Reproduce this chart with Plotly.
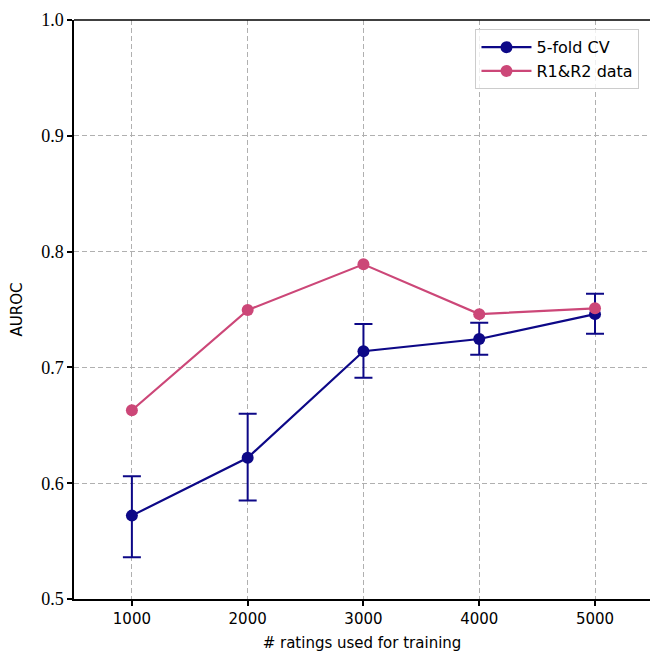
import plotly.graph_objects as go

n_ratings = [1000, 2000, 3000, 4000, 5000]
cv_mean = [0.572, 0.622, 0.714, 0.7245, 0.746]
cv_upper = [0.606, 0.660, 0.7375, 0.7385, 0.7635]
cv_lower = [0.536, 0.585, 0.691, 0.711, 0.729]
r1r2 = [0.663, 0.7495, 0.789, 0.746, 0.751]

x_ticks = [1000, 2000, 3000, 4000, 5000]
y_ticks = [0.5, 0.6, 0.7, 0.8, 0.9, 1.0]

navy = "#0d0887"
pink = "#cc4778"

err_plus = [u - m for u, m in zip(cv_upper, cv_mean)]
err_minus = [m - l for m, l in zip(cv_mean, cv_lower)]

fig = go.Figure()
fig.add_trace(go.Scatter(
    x=n_ratings, y=cv_mean, mode="lines+markers", name="5-fold CV",
    line=dict(color=navy, width=2.2),
    marker=dict(color=navy, size=12),
    error_y=dict(type="data", symmetric=False, array=err_plus, arrayminus=err_minus,
                 color=navy, thickness=2, width=9),
))
fig.add_trace(go.Scatter(
    x=n_ratings, y=r1r2, mode="lines+markers", name="R1&amp;R2 data",
    line=dict(color=pink, width=2.2),
    marker=dict(color=pink, size=12),
))

fig.update_layout(
    width=650, height=652,
    margin=dict(l=74, r=0, t=20, b=53, autoexpand=False),
    plot_bgcolor="white", paper_bgcolor="white",
    showlegend=True,
    legend=dict(x=0.697, y=0.984, xanchor="left", yanchor="top",
                bgcolor="rgba(255,255,255,0.8)", bordercolor="#cccccc", borderwidth=1,
                font=dict(family="DejaVu Sans", size=16, color="black"),
                itemwidth=50, tracegroupgap=4),
    xaxis=dict(range=[500, 5475], tickvals=x_ticks, ticktext=[str(v) for v in x_ticks],
               automargin=False,
               showgrid=True, gridcolor="#b0b0b0", griddash="5px,3px", gridwidth=1,
               showline=True, linecolor="black", linewidth=1.5, mirror=False,
               ticks="outside", ticklen=5, tickwidth=1.5, tickcolor="black",
               tickfont=dict(family="DejaVu Sans", size=15, color="black"),
               title=dict(text="# ratings used for training",
                          font=dict(family="DejaVu Sans", size=15, color="black")),
               zeroline=False),
    yaxis=dict(range=[0.5, 1.0], tickvals=y_ticks, ticktext=[f"{v:.1f}" for v in y_ticks],
               automargin=False,
               showgrid=True, gridcolor="#b0b0b0", griddash="5px,3px", gridwidth=1,
               showline=True, linecolor="black", linewidth=1.5,
               ticks="outside", ticklen=5, tickwidth=1.5, tickcolor="black",
               tickfont=dict(family="Liberation Serif", size=18, color="black"),
               title=dict(text="AUROC",
                          font=dict(family="DejaVu Sans", size=15, color="black")),
               zeroline=False),
)
# top spine
fig.add_shape(type="line", xref="paper", yref="paper", x0=0, x1=1, y0=1, y1=1,
              line=dict(color="black", width=1.5))

fig.write_html("out.html", config={"displayModeBar": False},
               post_script="document.body.style.margin='0';document.body.style.overflow='hidden';")
